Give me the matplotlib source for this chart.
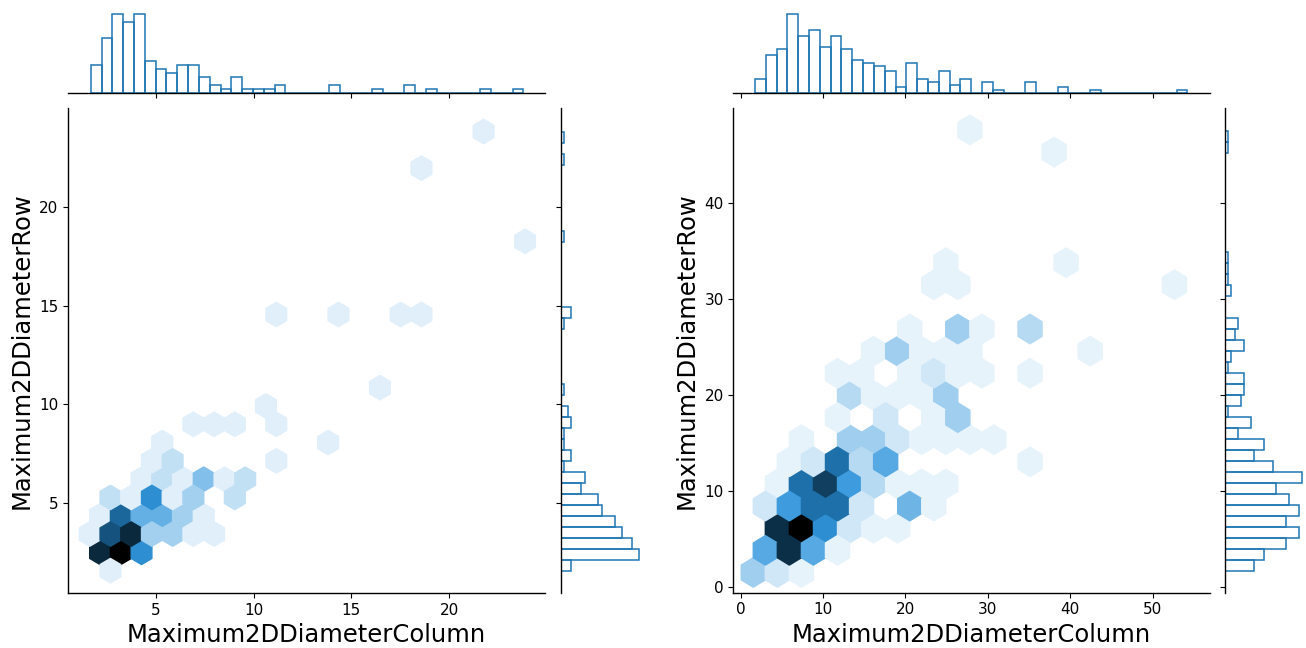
import colorsys
import numpy as np
import matplotlib
matplotlib.use("Agg")
import matplotlib.pyplot as plt
from matplotlib.colors import LinearSegmentedColormap, to_rgb

FIG_W, FIG_H = 1306, 648
BLUE = "#1f77b4"

# ---- left pair: hexagon centres and number of nodules in each ----
left_hex_x = [2.68,
              2.15, 3.21, 4.27,
              1.62, 2.68, 3.74, 4.80, 5.86, 6.92, 7.98,
              2.15, 3.21, 4.27, 5.33, 6.39, 7.45,
              2.68, 3.74, 4.80, 5.86, 6.92, 9.04,
              4.27, 5.33, 6.39, 7.45, 8.51, 9.57,
              4.80, 5.86, 11.16,
              5.33, 13.81,
              6.92, 7.98, 9.04, 11.16,
              10.63, 16.46,
              11.16, 14.34, 17.52, 18.58,
              23.88, 18.58, 21.76]
left_hex_y = [1.60,
              2.53, 2.53, 2.53,
              3.45, 3.45, 3.45, 3.45, 3.45, 3.45, 3.45,
              4.38, 4.38, 4.38, 4.38, 4.38, 4.38,
              5.30, 5.30, 5.30, 5.30, 5.30, 5.30,
              6.23, 6.23, 6.23, 6.23, 6.23, 6.23,
              7.15, 7.15, 7.15,
              8.08, 8.08,
              9.00, 9.00, 9.00, 9.00,
              9.93, 10.85,
              14.55, 14.55, 14.55, 14.55,
              18.25, 21.95, 23.80]
left_hex_n = [1,
              12, 14, 7,
              1, 10, 12, 3, 3, 1, 1,
              1, 9, 5, 5, 3, 1,
              2, 1, 7, 1, 3, 2,
              1, 2, 1, 4, 1, 2,
              1, 2, 1,
              1, 1,
              1, 1, 1, 1,
              1, 1,
              1, 1, 1, 1,
              1, 1, 1]

# marginal histograms (40 bins between the given limits)
left_col_range = (1.67, 23.80)
left_col_counts = [7, 14, 20, 18, 20, 8, 6, 5, 7, 7, 4, 2, 1, 4, 1, 1, 1, 2, 0, 0,
                   0, 0, 2, 0, 0, 0, 1, 0, 0, 2, 0, 1, 0, 0, 0, 0, 1, 0, 0, 1]
left_row_range = (1.56, 23.80)
left_row_counts = [3, 23, 21, 18, 16, 12, 11, 6, 7, 1, 3, 1, 1, 3, 2, 0, 1, 0, 0, 0,
                   0, 0, 1, 3, 0, 0, 0, 0, 0, 0, 1, 0, 0, 0, 0, 0, 0, 1, 0, 1]

# ---- right pair ----
right_hex_x = [1.53, 4.45, 7.37,
               2.99, 5.91, 8.83, 11.75,
               4.45, 7.37, 10.29, 13.21, 16.13, 19.05,
               2.99, 5.91, 8.83, 11.75, 14.67, 20.51, 23.43,
               4.45, 7.37, 10.29, 13.21, 16.13, 19.05, 21.97, 24.89,
               5.91, 8.83, 11.75, 14.67, 17.59, 35.11,
               7.37, 13.21, 16.13, 19.05, 21.97, 24.89, 27.81, 30.73,
               11.75, 17.59, 23.43, 26.35,
               13.21, 16.13, 19.05, 21.97, 24.89,
               11.75, 14.67, 20.51, 23.43, 26.35, 29.27, 35.11,
               16.13, 19.05, 21.97, 24.89, 27.81, 42.41,
               20.51, 26.35, 29.27, 35.11,
               23.43, 26.35, 52.63,
               24.89, 39.49,
               38.03, 27.81]
right_hex_y = [1.55, 1.55, 1.55,
               3.85, 3.85, 3.85, 3.85,
               6.16, 6.16, 6.16, 6.16, 6.16, 6.16,
               8.47, 8.47, 8.47, 8.47, 8.47, 8.47, 8.47,
               10.77, 10.77, 10.77, 10.77, 10.77, 10.77, 10.77, 10.77,
               13.08, 13.08, 13.08, 13.08, 13.08, 13.08,
               15.38, 15.38, 15.38, 15.38, 15.38, 15.38, 15.38, 15.38,
               17.69, 17.69, 17.69, 17.69,
               20.00, 20.00, 20.00, 20.00, 20.00,
               22.30, 22.30, 22.30, 22.30, 22.30, 22.30, 22.30,
               24.61, 24.61, 24.61, 24.61, 24.61, 24.61,
               26.91, 26.91, 26.91, 26.91,
               31.53, 31.53, 31.53,
               33.83, 33.83,
               45.36, 47.67]
right_hex_n = [4, 2, 1,
               7, 15, 7, 1,
               15, 18, 9, 2, 1, 1,
               2, 8, 11, 11, 2, 6, 1,
               1, 11, 14, 8, 3, 1, 1, 1,
               1, 2, 11, 3, 7, 1,
               1, 4, 4, 2, 1, 1, 1, 1,
               1, 2, 1, 4,
               3, 1, 1, 1, 4,
               1, 1, 1, 2, 1, 1, 1,
               1, 4, 1, 1, 1, 1,
               1, 4, 1, 3,
               1, 1, 1,
               1, 1,
               1, 1]

right_col_range = (1.74, 54.2)
right_col_counts = [5, 14, 16, 29, 21, 23, 17, 21, 16, 12, 11, 10, 8, 2, 11, 5, 4, 8, 3, 5,
                    0, 4, 1, 0, 0, 4, 0, 0, 2, 0, 0, 1, 0, 0, 0, 0, 0, 0, 0, 1]
right_row_range = (1.71, 47.6)
right_row_counts = [9, 12, 19, 23, 19, 23, 20, 16, 24, 15, 9, 12, 4, 8, 1, 5, 6, 6, 1, 2,
                    6, 3, 4, 0, 0, 2, 1, 1, 1, 0, 0, 0, 0, 0, 0, 0, 0, 0, 1, 1]


def hex_cmap(color):
    # white -> colour -> black, same lightness ramp seaborn uses for hex plots
    h, l, s = colorsys.rgb_to_hls(*to_rgb(color))
    colors = [colorsys.hls_to_rgb(h, v, s) for v in np.linspace(1, 0, 12)]
    return LinearSegmentedColormap.from_list("hexblue", colors)


def px_axes(fig, left, top, right, bottom, **kw):
    return fig.add_axes([left / FIG_W, 1 - bottom / FIG_H,
                         (right - left) / FIG_W, (bottom - top) / FIG_H], **kw)


def marginal_hist(ax, rng, counts, orientation):
    edges = np.linspace(rng[0], rng[1], len(counts) + 1)
    ax.hist(edges[:-1], bins=edges, weights=counts, histtype="bar", fill=False,
            edgecolor=BLUE, linewidth=1.1, orientation=orientation)


def joint_panel(fig, boxes, hexes, hist_x, hist_y, extent, gridsize,
                xlim, ylim, xticks, yticks):
    joint_box, top_box, side_box = boxes
    ax = px_axes(fig, *joint_box)
    ax_top = px_axes(fig, *top_box, sharex=ax)
    ax_side = px_axes(fig, *side_box, sharey=ax)

    hx, hy, hn = hexes
    ax.hexbin(hx, hy, C=hn, reduce_C_function=np.sum, gridsize=gridsize,
              extent=extent, cmap=hex_cmap(BLUE), vmin=0)

    marginal_hist(ax_top, hist_x[0], hist_x[1], "vertical")
    marginal_hist(ax_side, hist_y[0], hist_y[1], "horizontal")

    ax.set_xlim(*xlim)
    ax.set_ylim(*ylim)
    ax.set_xticks(xticks)
    ax.set_yticks(yticks)
    ax.set_xlabel("Maximum2DDiameterColumn", fontsize=17.5)
    ax.set_ylabel("Maximum2DDiameterRow", fontsize=17.5)
    ax.tick_params(labelsize=11)
    for side in ("top", "right"):
        ax.spines[side].set_visible(False)

    for side in ("top", "right", "left"):
        ax_top.spines[side].set_visible(False)
    ax_top.tick_params(axis="x", labelbottom=False)
    ax_top.tick_params(axis="y", left=False, labelleft=False)

    for side in ("top", "right", "bottom"):
        ax_side.spines[side].set_visible(False)
    ax_side.tick_params(axis="y", labelleft=False)
    ax_side.tick_params(axis="x", bottom=False, labelbottom=False)

    for a in (ax, ax_top, ax_side):
        for sp in a.spines.values():
            sp.set_linewidth(1.0)


def main():
    fig = plt.figure(figsize=(FIG_W / 100, FIG_H / 100), dpi=100)

    joint_panel(fig,
                ((68, 108, 545, 593), (68, 10, 545, 93), (561, 108, 643, 593)),
                (left_hex_x, left_hex_y, left_hex_n),
                (left_col_range, left_col_counts),
                (left_row_range, left_row_counts),
                extent=(1.09, 24.41, 0.675, 24.725), gridsize=(22, 13),
                xlim=(0.51, 24.9), ylim=(0.47, 24.99),
                xticks=[5, 10, 15, 20], yticks=[5, 10, 15, 20])

    joint_panel(fig,
                ((733.5, 108, 1209.6, 592.7), (733.5, 10, 1209.6, 92.7),
                 (1225, 108, 1306, 592.7)),
                (right_hex_x, right_hex_y, right_hex_n),
                (right_col_range, right_col_counts),
                (right_row_range, right_row_counts),
                extent=(-1.39, 54.09, 1.548, 52.28), gridsize=(19, 11),
                xlim=(-0.87, 56.9), ylim=(-0.56, 49.95),
                xticks=[0, 10, 20, 30, 40, 50], yticks=[0, 10, 20, 30, 40])

    fig.savefig("out.png", dpi=100)


if __name__ == "__main__":
    main()
